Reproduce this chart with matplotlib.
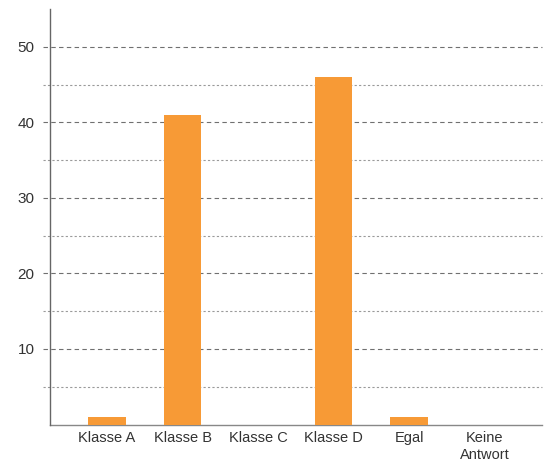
import matplotlib
matplotlib.use("Agg")
import matplotlib.pyplot as plt
import numpy as np

# survey answers per option
categories = ["Klasse A", "Klasse B", "Klasse C", "Klasse D", "Egal", "Keine\nAntwort"]
counts = [1, 41, 0, 46, 1, 0]

major_ticks = [10, 20, 30, 40, 50]
minor_ticks = [5, 15, 25, 35, 45]

BAR_COLOR = "#F79A36"
TEXT_COLOR = "#333333"

plt.rcParams["font.family"] = ["Liberation Sans", "DejaVu Sans"]

fig = plt.figure(figsize=(5.44, 4.63), dpi=100)
ax = fig.add_axes([50 / 544, 38.5 / 463, 492 / 544, 415.5 / 463])

x = np.arange(len(categories))
ax.bar(x, counts, width=0.5, color=BAR_COLOR, zorder=3)

ax.set_xlim(-0.755, 5.76)
ax.set_ylim(0, 55)

# grid lines run a little past the left spine, like tick marks
ext = -7 / 492
for y in major_ticks:
    ax.plot([ext, 1], [y, y], transform=ax.get_yaxis_transform(), color="#707070",
            lw=0.8, ls=(0, (4, 3)), clip_on=False, zorder=1)
for y in minor_ticks:
    ax.plot([ext, 1], [y, y], transform=ax.get_yaxis_transform(), color="#9a9a9a",
            lw=0.8, ls=(0, (2, 2)), clip_on=False, zorder=1)

ax.set_yticks(major_ticks)
ax.set_xticks(x)
ax.set_xticklabels(categories, linespacing=1.25)
ax.tick_params(axis="y", length=0, pad=11, labelsize=11, labelcolor=TEXT_COLOR)
ax.tick_params(axis="x", length=0, pad=5, labelsize=10.5, labelcolor=TEXT_COLOR)

for side in ("top", "right"):
    ax.spines[side].set_visible(False)
ax.spines["left"].set_color("#666666")
ax.spines["left"].set_linewidth(1.0)
ax.spines["bottom"].set_color("#888888")
ax.spines["bottom"].set_linewidth(1.0)
ax.spines["left"].set_zorder(4)

fig.savefig("out.png", dpi=100)
